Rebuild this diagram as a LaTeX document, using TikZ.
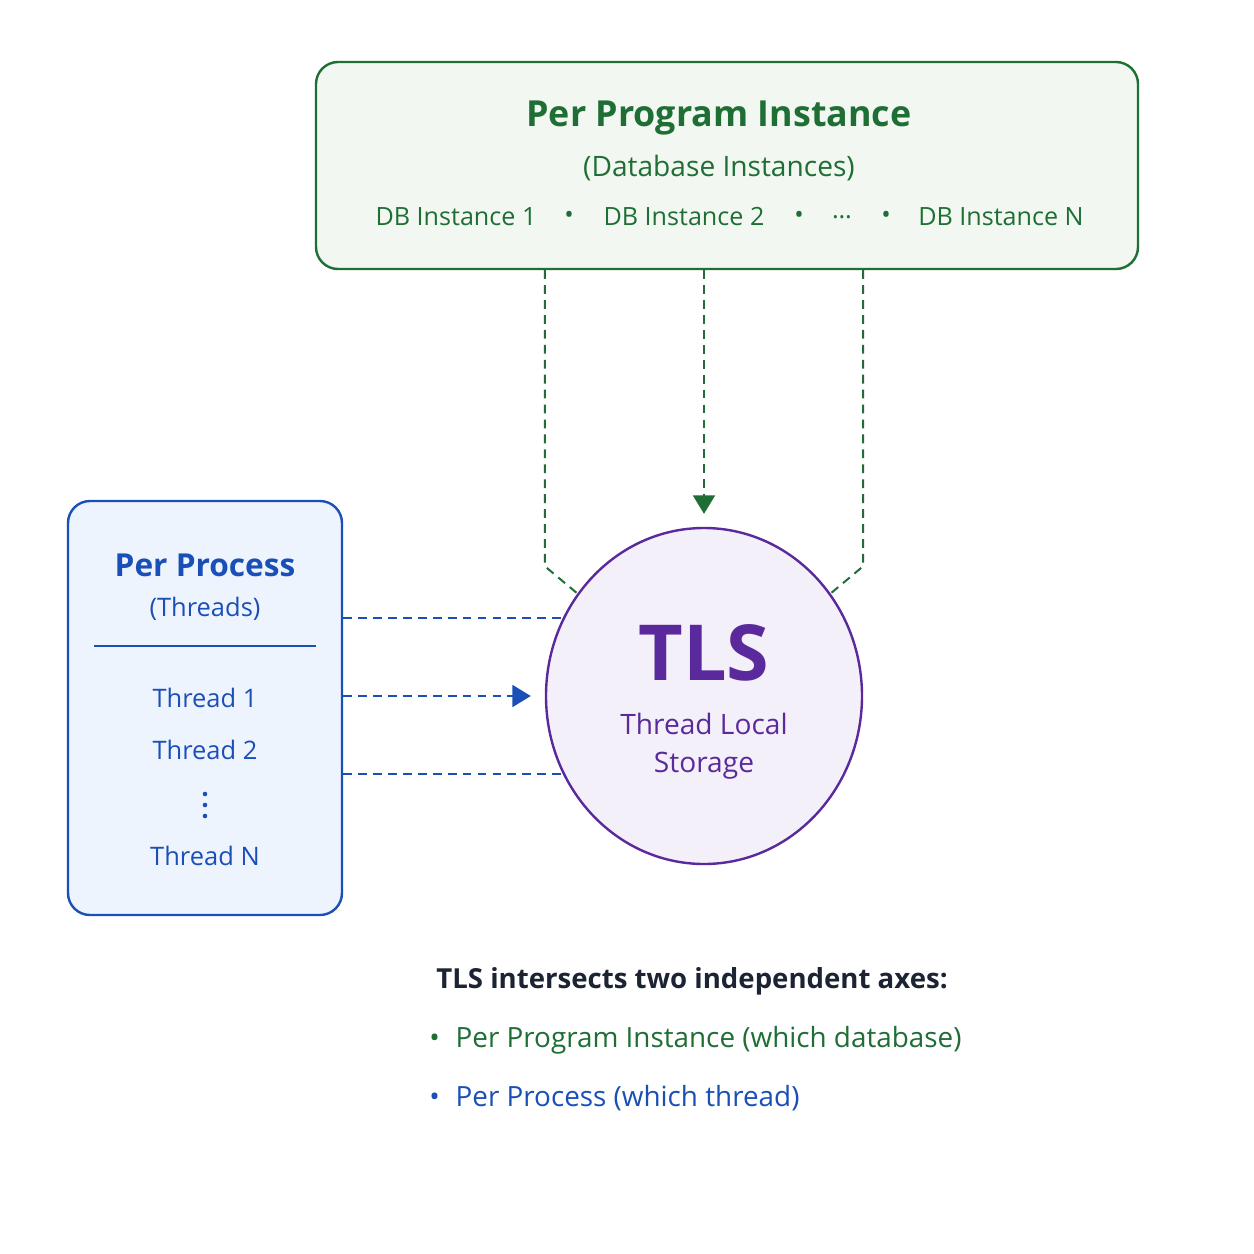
\documentclass[tikz,border=0pt]{standalone}
\usepackage{fontspec}
\setmainfont{Open Sans}
\usepackage{tikz}
\usetikzlibrary{shapes.geometric,arrows.meta}

\definecolor{progGreen}{HTML}{1E6E35}
\definecolor{progFill}{HTML}{F2F8F1}
\definecolor{procBlue}{HTML}{1B4FB8}
\definecolor{procFill}{HTML}{EEF4FD}
\definecolor{tlsPurple}{HTML}{5A2A9C}
\definecolor{tlsFill}{HTML}{F4F0FA}
\definecolor{noteInk}{HTML}{1C2333}
\newlength{\pxu}\setlength{\pxu}{0.02cm}

\begin{document}
\begin{tikzpicture}[x=1\pxu,y=-1\pxu,
box/.style n args={4}{draw=#1,fill=#2,minimum width=#3\pxu,minimum height=#4\pxu,rounded corners=22\pxu,line width=2.4\pxu,rectangle},
fs/.style={font=\fontsize{#1}{#1}\selectfont},
fsb/.style={font=\bfseries\fontsize{#1}{#1}\selectfont},
gdash/.style={progGreen,line width=2\pxu,dash pattern=on 5pt off 3.5pt},
bdash/.style={procBlue,line width=2\pxu,dash pattern=on 5pt off 3.5pt},
tip/.style={-{Triangle[width=12.5pt,length=10.5pt]}}]
\fill[white] (0,0) rectangle (1254,1254);
\useasboundingbox (0,0) rectangle (1254,1254);
% boxes and circle
\node[box={progGreen}{progFill}{822}{207}] (gbox) at (727,165.5) {};
\node[box={procBlue}{procFill}{274}{414}] (bbox) at (205,708) {};
\node[ellipse,draw=tlsPurple,fill=tlsFill,line width=2.4\pxu,minimum width=316\pxu,minimum height=336\pxu,inner sep=0] (tls) at (704,696) {};
% per program instance
\node[fsb=20.4,text=progGreen] (gtitle) at (719,118) {Per Program Instance};
\node[fs=16,text=progGreen] (gsub) at (719,168) {(Database Instances)};
\foreach \x/\l in %
{456/DB Instance 1,569/•,684/DB Instance 2,799/•,842/…,886/•,1001/DB Instance N} {
   \node[fs=14.3,text=progGreen] at (\x,217) {\l};
}
% per process
\node[fsb=18,text=procBlue] (btitle) at (205,565) {Per Process};
\node[fs=14.5,text=procBlue] (bsub) at (205,609) {(Threads)};
\draw[procBlue,line width=2.4\pxu] (94,646) -- (316,646);
\foreach \y/\l in %
{698/Thread 1,750/Thread 2,856/Thread N} {
   \node[fs=14.5,text=procBlue] at (205,\y) {\l};
}
\foreach \y in {794,805,816} {
   \fill[procBlue] (205,\y) circle (2.3\pxu);
}
% tls
\node[fsb=44,text=tlsPurple] (tlsname) at (704,653) {TLS};
\node[fs=16,text=tlsPurple] (tlsline1) at (704,724) {Thread Local};
\node[fs=16,text=tlsPurple] (tlsline2) at (704,766) {Storage};
% connectors
\draw[gdash] (tls.west |- gbox.south) -- ++(0,296) -- (tls.141);
\draw[gdash,tip] (gbox.south -| tls.north) -- ([yshift=13\pxu]tls.north);
\draw[gdash] (tls.east |- gbox.south) -- ++(0,296) -- (tls.39);
\draw[bdash] (bbox.east |- tls.151) -- (tls.151);
\draw[bdash,tip] (bbox.east |- tls.center) -- ([xshift=-14\pxu]tls.west);
\draw[bdash] (bbox.east |- tls.209) -- (tls.209);
% note
\node[fsb=15.7,text=noteInk,anchor=west,inner sep=0] (axes) at (436,981) {TLS intersects two independent axes:};
\node[fs=15.85,text=progGreen,anchor=west,inner sep=0] (axprog) at (429,1040) {•\hspace{9pt}Per Program Instance (which database)};
\node[fs=15.85,text=procBlue,anchor=west,inner sep=0] (axproc) at (429,1098) {•\hspace{9pt}Per Process (which thread)};
\end{tikzpicture}
\end{document}
